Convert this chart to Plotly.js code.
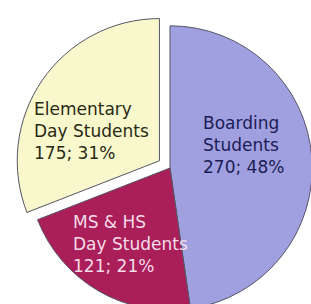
<!DOCTYPE html>
<html>
<head>
<meta charset="utf-8">
<script src="https://cdn.plot.ly/plotly-3.0.1.min.js"></script>
<style>
  html, body { margin: 0; padding: 0; background: #ffffff; overflow: hidden; }
  #chart { width: 340px; height: 323px; }
</style>
</head>
<body>
<div id="chart"></div>
<script>
// Data
const categories = ['Boarding<br>Students', 'MS & HS<br>Day Students', 'Elementary<br>Day Students'];
const students = [270, 121, 175];
const pulls = [0, 0, 0.09];

// Styles
const sliceColors = ['#a09fe0', '#aa1e5a', '#f9f8cc'];
const textColors = ['#1c1c55', '#f6dce8', '#2a2a14'];
const labelRadius = [0.54, 0.60, 0.52];     // fraction of pie radius
const labelAngleShift = [-13, -3, -11];     // degrees from the slice's mid-angle

const W = 340, H = 323;
const M = { l: 0, r: 0, t: 13, b: 0 };
const gsW = W - M.l - M.r, gsH = H - M.t - M.b;
const maxPull = Math.max(...pulls);
const R = Math.min(gsW, gsH) / (2 + 2 * maxPull);
const CX = M.l + gsW / 2, CY = M.t + gsH / 2;

const total = students.reduce((a, b) => a + b, 0);
const annotations = [];
let cum = 0;
students.forEach((v, i) => {
  const mid = (cum + v / 2) / total * 360;
  cum += v;
  const rad = d => d * Math.PI / 180;
  const ox = pulls[i] * R * Math.sin(rad(mid));
  const oy = -pulls[i] * R * Math.cos(rad(mid));
  const th = rad(mid + labelAngleShift[i]);
  const px = CX + ox + labelRadius[i] * R * Math.sin(th);
  const py = CY + oy - labelRadius[i] * R * Math.cos(th);
  const pct = Math.round(v / total * 100);
  annotations.push({
    xref: 'paper', yref: 'paper',
    x: (px - M.l) / gsW, y: 1 - (py - M.t) / gsH,
    xanchor: 'center', yanchor: 'middle', align: 'left',
    showarrow: false,
    text: categories[i] + '<br>' + v + '; ' + pct + '%',
    font: { family: 'DejaVu Sans', size: 17, color: textColors[i] }
  });
});

const trace = {
  type: 'pie',
  labels: categories,
  values: students,
  sort: false,
  direction: 'clockwise',
  rotation: 0,
  pull: pulls,
  marker: { colors: sliceColors, line: { color: '#555566', width: 1 } },
  textinfo: 'none',
  hoverinfo: 'none'
};

const layout = {
  width: W,
  height: H,
  margin: { l: M.l, r: M.r, t: M.t, b: M.b, pad: 0 },
  showlegend: false,
  paper_bgcolor: '#ffffff',
  plot_bgcolor: '#ffffff',
  annotations: annotations
};

Plotly.newPlot('chart', [trace], layout, { staticPlot: true, displayModeBar: false });
</script>
</body>
</html>
